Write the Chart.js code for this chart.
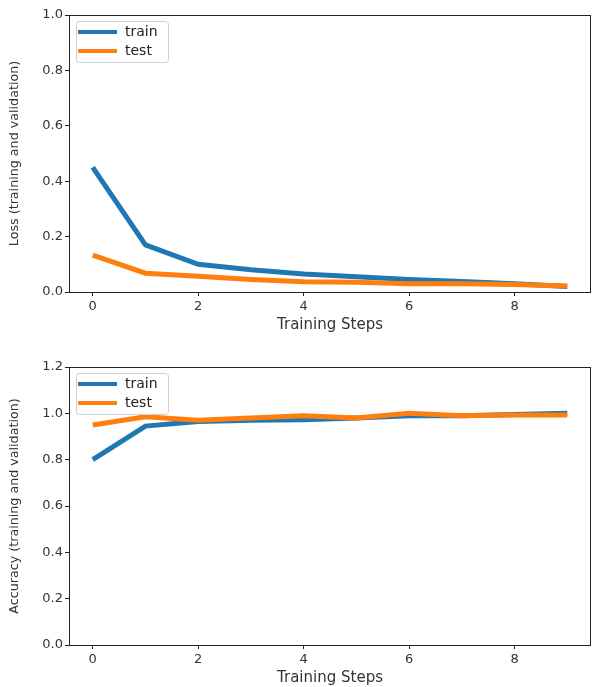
<!DOCTYPE html>
<html>
<head>
<meta charset="utf-8">
<script src="https://cdn.jsdelivr.net/npm/chart.js@4.4.1/dist/chart.umd.min.js"></script>
<style>
  html, body { margin: 0; padding: 0; background: #fff; }
  #wrap { position: relative; width: 592px; height: 687px; overflow: hidden; }
  .box { position: absolute; left: 0; width: 592px; }
  #lossBox { top: 0; height: 340px; }
  #accBox { top: 340px; height: 347px; }
</style>
</head>
<body>
<div id="wrap">
  <div class="box" id="lossBox"><canvas id="lossChart"></canvas></div>
  <div class="box" id="accBox"><canvas id="accChart"></canvas></div>
</div>
<script>
// steps 0..9
const steps = [0, 1, 2, 3, 4, 5, 6, 7, 8, 9];
const xTicks = [0, 2, 4, 6, 8];

const lossTrain = [0.45, 0.17, 0.10, 0.08, 0.065, 0.055, 0.045, 0.038, 0.03, 0.02];
const lossTest = [0.133, 0.068, 0.057, 0.045, 0.037, 0.035, 0.03, 0.03, 0.027, 0.022];
const lossTicks = [0.0, 0.2, 0.4, 0.6, 0.8, 1.0];

const accTrain = [0.80, 0.945, 0.965, 0.97, 0.972, 0.98, 0.99, 0.99, 0.995, 1.0];
const accTest = [0.95, 0.985, 0.97, 0.98, 0.99, 0.98, 1.0, 0.99, 0.993, 0.993];
const accTicks = [0.0, 0.2, 0.4, 0.6, 0.8, 1.0, 1.2];

const BLUE = "#1f77b4";
const ORANGE = "#ff7f0e";
const FONT = "DejaVu Sans";

// frame round the plot area + legend in the upper left corner
const frameAndLegend = {
    id: "frameAndLegend",
    afterDatasetsDraw(chart) {
        const { ctx, chartArea: a } = chart;
        ctx.save();
        ctx.strokeStyle = "#222";
        ctx.lineWidth = 1;
        ctx.strokeRect(a.left + 0.5, a.top + 0.5, a.right - a.left - 1, a.bottom - a.top);

        const bx = a.left + 7, by = a.top + 6, bw = 92, bh = 41;
        ctx.fillStyle = "rgba(255,255,255,0.8)";
        ctx.strokeStyle = "#d0d0d0";
        ctx.beginPath();
        ctx.roundRect(bx + 0.5, by + 0.5, bw, bh, 3);
        ctx.fill();
        ctx.stroke();

        ctx.font = "14px '" + FONT + "'";
        ctx.textBaseline = "middle";
        chart.data.datasets.forEach((ds, i) => {
            const y = by + 11 + i * 19;
            ctx.strokeStyle = ds.borderColor;
            ctx.lineWidth = 4;
            ctx.beginPath();
            ctx.moveTo(bx + 2, y);
            ctx.lineTo(bx + 41, y);
            ctx.stroke();
            ctx.fillStyle = "#222";
            ctx.fillText(ds.label, bx + 49, y);
        });
        ctx.restore();
    }
};

function makeChart(id, train, test, yMax, yTicks, yTitle, padTop, xTitlePad) {
    const el = document.getElementById(id);
    return new Chart(el.getContext("2d"), {
        type: "line",
        data: {
            datasets: [
                { label: "train", data: steps.map((s, i) => ({ x: s, y: train[i] })),
                  borderColor: BLUE, borderWidth: 5, pointRadius: 0, tension: 0, order: 1 },
                { label: "test", data: steps.map((s, i) => ({ x: s, y: test[i] })),
                  borderColor: ORANGE, borderWidth: 5, pointRadius: 0, tension: 0, order: 0 }
            ]
        },
        options: {
            responsive: true,
            maintainAspectRatio: false,
            animation: false,
            layout: { padding: { left: 0, top: padTop, right: 1, bottom: 0 } },
            plugins: { legend: { display: false }, tooltip: { enabled: false } },
            scales: {
                x: {
                    type: "linear",
                    min: -0.45,
                    max: 9.45,
                    afterBuildTicks: (s) => { s.ticks = xTicks.map(v => ({ value: v })); },
                    afterFit: (s) => { s.height = id === "lossChart" ? 48 : 42; },
                    grid: { drawOnChartArea: false, drawTicks: true, tickLength: 4, color: "#222" },
                    border: { display: false },
                    ticks: { color: "#333", padding: 3, font: { family: FONT, size: 13 } },
                    title: { display: true, text: "Training Steps", color: "#333",
                             font: { family: FONT, size: 15 }, padding: { top: 0, bottom: xTitlePad } }
                },
                y: {
                    min: 0,
                    max: yMax,
                    afterBuildTicks: (s) => { s.ticks = yTicks.map(v => ({ value: v })); },
                    afterFit: (s) => { s.width = 69; },
                    grid: { drawOnChartArea: false, drawTicks: true, tickLength: 4, color: "#222" },
                    border: { display: false },
                    ticks: { color: "#333", padding: 2, font: { family: FONT, size: 13 },
                             callback: (v) => Number(v).toFixed(1) },
                    title: { display: true, text: yTitle, color: "#333",
                             font: { family: FONT, size: 12.7 }, padding: { top: 7, bottom: 0 } }
                }
            }
        },
        plugins: [frameAndLegend]
    });
}

makeChart("lossChart", lossTrain, lossTest, 1.0, lossTicks, "Loss (training and validation)", 15, 6);
makeChart("accChart", accTrain, accTest, 1.2, accTicks, "Accuracy (training and validation)", 27, 0);
</script>
</body>
</html>
